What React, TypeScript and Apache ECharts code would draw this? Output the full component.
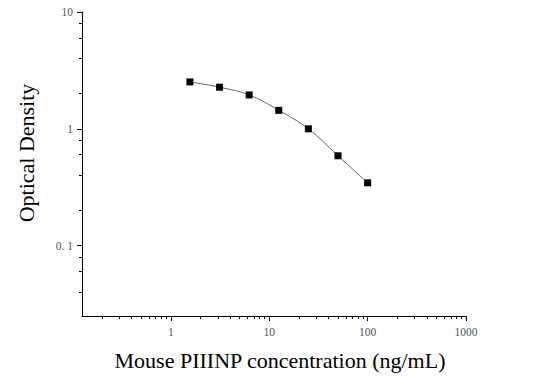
import React, { useEffect, useRef } from "react";
import * as echarts from "echarts";

const concentrations = [1.5625, 3.125, 6.25, 12.5, 25, 50, 100];
const opticalDensity = [2.52, 2.27, 1.95, 1.44, 1.0, 0.588, 0.345];

const xMajorTicks = [1, 10, 100, 1000];
const xMinorTicks = [
  0.2, 0.3, 0.4, 0.5, 0.6, 0.7, 0.8, 0.9,
  2, 3, 4, 5, 6, 7, 8, 9,
  20, 30, 40, 50, 60, 70, 80, 90,
  200, 300, 400, 500, 600, 700, 800, 900,
];
const yMajorTicks = [0.1, 1, 10];
const yMinorTicks = [0.04, 0.06, 0.08, 0.2, 0.4, 0.6, 0.8, 2, 4, 6, 8];

const xTitle = "Mouse PIIINP concentration (ng/mL)";
const yTitle = "Optical Density";

const FONT = '"Liberation Serif", "Times New Roman", serif';
const LABEL_COLOR = "#4a5468";

export default function App() {
  const ref = useRef<HTMLDivElement>(null);
  useEffect(() => {
    if (!ref.current) return;
    const chart = echarts.init(ref.current, null, { renderer: "svg" });
    const data = concentrations.map((c, i) => [c, opticalDensity[i]]);
    chart.setOption({
      animation: false,
      backgroundColor: "#fff",
      textStyle: { fontFamily: FONT },
      grid: { left: 82, right: 73, top: 12, bottom: 68 },
      xAxis: [
        {
          type: "log",
          logBase: 10,
          min: 0.125,
          max: 1000,
          axisLine: { show: true, lineStyle: { color: "#000", width: 1 } },
          axisTick: { show: true, length: 5, customValues: xMajorTicks, lineStyle: { color: "#000" } },
          axisLabel: {
            color: LABEL_COLOR,
            fontSize: 11.5,
            fontFamily: FONT,
            margin: 10,
            customValues: xMajorTicks,
            formatter: (v: number) => String(v),
          },
          splitLine: { show: false },
          minorTick: { show: false },
        },
        {
          type: "log",
          logBase: 10,
          min: 0.125,
          max: 1000,
          position: "bottom",
          axisLine: { show: false },
          axisTick: { show: true, length: 3, customValues: xMinorTicks, lineStyle: { color: "#000" } },
          axisLabel: { show: false },
          splitLine: { show: false },
        },
      ],
      yAxis: [
        {
          type: "log",
          logBase: 10,
          min: 0.025,
          max: 10,
          axisLine: { show: true, lineStyle: { color: "#000", width: 1 } },
          axisTick: { show: true, length: 5, customValues: yMajorTicks, lineStyle: { color: "#000" } },
          axisLabel: {
            color: LABEL_COLOR,
            fontSize: 11.5,
            fontFamily: FONT,
            margin: 9,
            customValues: yMajorTicks,
            formatter: (v: number) => (Math.abs(v - 0.1) < 1e-9 ? "0. 1" : String(Math.round(v))),
          },
          splitLine: { show: false },
        },
        {
          type: "log",
          logBase: 10,
          min: 0.025,
          max: 10,
          position: "left",
          axisLine: { show: false },
          axisTick: { show: true, length: 3, customValues: yMinorTicks, lineStyle: { color: "#000" } },
          axisLabel: { show: false },
          splitLine: { show: false },
        },
      ],
      series: [
        {
          type: "line",
          xAxisIndex: 0,
          yAxisIndex: 0,
          data,
          smooth: 0.4,
          symbol: "rect",
          symbolSize: 7,
          itemStyle: { color: "#000" },
          lineStyle: { color: "#555", width: 0.9 },
        },
      ],
      graphic: [
        {
          type: "text",
          x: 280,
          y: 360,
          style: {
            text: xTitle,
            font: `22px ${FONT}`,
            fill: "#000",
            textAlign: "center",
            textVerticalAlign: "middle",
          },
        },
        {
          type: "text",
          x: 26,
          y: 153,
          rotation: Math.PI / 2,
          style: {
            text: yTitle,
            font: `22px ${FONT}`,
            fill: "#000",
            textAlign: "center",
            textVerticalAlign: "middle",
          },
        },
      ],
    });
    return () => chart.dispose();
  }, []);
  return (
    <div
      ref={ref}
      style={{ position: "fixed", left: 0, top: 0, width: 539, height: 384, background: "#fff" }}
    />
  );
}
